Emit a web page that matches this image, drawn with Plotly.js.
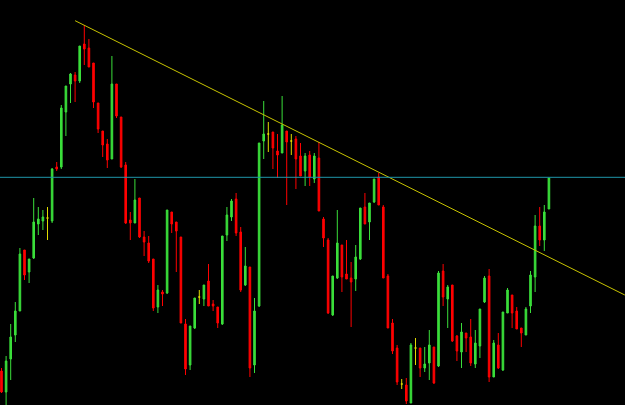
<!DOCTYPE html>
<html>
<head>
<meta charset="utf-8">
<script src="https://cdn.plot.ly/plotly-3.0.1.min.js"></script>
<style>html,body{margin:0;padding:0;background:#000;}#chart{width:625px;height:405px;}</style>
</head>
<body>
<div id="chart"></div>
<script>
// Price values (arbitrary points), one per bar
const openP = [34,13,46,70,94,155,133,147,181,184,
187,184,238,238,293,321,330,324,361,357,
342,302,274,261,246,321,288,240,185,182,
207,168,162,146,98,113,112,193,183,168,
81,40,77,108,106,124,101,98,81,170,
188,206,173,120,138,40,99,264,271,273,
254,252,274,264,266,249,234,250,226,247,
186,165,90,127,160,131,127,126,146,198,
183,203,228,198,129,82,57,21,20,2,
57,57,37,42,58,39,134,106,120,69,
53,72,68,41,59,103,129,28,60,35,
92,110,94,77,70,99,128,179,165,196];
const highP = [37,49,81,103,157,155,146,207,198,195,
198,237,243,300,319,332,333,359,380,366,
342,302,274,266,349,321,288,243,193,226,
207,174,169,146,120,115,195,193,183,168,
86,79,107,115,120,141,105,98,169,198,
206,212,178,158,138,107,262,304,283,273,
271,309,274,271,269,262,252,254,252,263,
188,167,129,195,160,165,143,160,197,212,
202,226,232,200,131,86,60,26,27,62,
67,57,58,75,58,134,141,120,120,70,
82,72,86,75,96,129,136,65,72,93,
117,110,98,77,98,134,190,198,200,227];
const lowP = [12,0,25,63,94,125,122,146,170,175,
165,182,234,236,269,302,303,322,340,338,
297,272,248,237,246,287,237,181,165,182,
167,149,142,94,92,99,111,172,133,82,
30,35,76,101,99,99,94,77,80,164,
184,169,113,119,28,32,98,246,253,236,
227,252,200,250,216,229,219,219,222,194,
158,91,89,126,113,126,78,114,145,181,
165,202,200,127,77,51,20,16,1,2,
40,28,33,25,21,38,99,77,63,44,
37,53,39,37,47,102,23,28,36,34,
92,77,76,58,70,92,113,159,154,196];
const closeP = [13,44,68,94,151,130,146,183,186,188,
187,236,236,297,319,331,324,359,356,338,
303,276,260,245,321,289,238,182,182,205,
168,163,144,97,115,111,195,181,174,82,
36,79,107,108,120,99,99,82,169,190,
204,172,115,139,37,94,262,271,271,257,
250,280,263,264,246,229,249,228,249,194,
167,92,129,162,128,126,123,148,197,181,
202,226,200,127,77,54,23,21,4,60,
57,37,41,60,22,132,108,118,64,54,
73,67,42,62,96,127,28,62,37,93,
115,92,76,72,96,130,179,165,193,227];

// Drawn lines
const trendX = [16, 135.5];
const trendY = [384.3, 110];
const levelY = 227.7;

const idx = openP.map((_, i) => i);
function pick(arr, keep) { return arr.filter((_, i) => keep(i)); }
const isDoji = i => openP[i] === closeP[i];
const notDoji = i => !isDoji(i);

const GREEN = '#3ade3a', RED = '#ff0000', YEL = '#e0dc00';

const main = {
  type: 'candlestick',
  x: pick(idx, notDoji), open: pick(openP, notDoji), high: pick(highP, notDoji),
  low: pick(lowP, notDoji), close: pick(closeP, notDoji),
  increasing: {line: {color: GREEN, width: 1}, fillcolor: GREEN},
  decreasing: {line: {color: RED, width: 1}, fillcolor: RED},
  whiskerwidth: 0, hoverinfo: 'skip', showlegend: false
};
const doji = {
  type: 'candlestick',
  x: pick(idx, isDoji), open: pick(openP, isDoji), high: pick(highP, isDoji),
  low: pick(lowP, isDoji), close: pick(closeP, isDoji),
  increasing: {line: {color: YEL, width: 1}, fillcolor: YEL},
  decreasing: {line: {color: YEL, width: 1}, fillcolor: YEL},
  whiskerwidth: 0, hoverinfo: 'skip', showlegend: false
};
const trend = {
  type: 'scatter', mode: 'lines', x: trendX, y: trendY,
  line: {color: '#c8c400', width: 1}, hoverinfo: 'skip', showlegend: false
};

const layout = {
  width: 625, height: 405,
  margin: {l: 0, r: 0, t: 0, b: 0, pad: 0},
  paper_bgcolor: '#000', plot_bgcolor: '#000',
  boxgap: 0.5,
  showlegend: false,
  hovermode: false,
  xaxis: {range: [-0.326, 135.54], visible: false, rangeslider: {visible: false}, fixedrange: true},
  yaxis: {range: [0, 405], visible: false, fixedrange: true},
  shapes: [{type: 'line', xref: 'paper', x0: 0, x1: 1, yref: 'y', y0: levelY, y1: levelY,
            line: {color: '#1e96aa', width: 1}}]
};

Plotly.newPlot('chart', [main, doji, trend], layout, {staticPlot: true, displayModeBar: false});
</script>
</body>
</html>
